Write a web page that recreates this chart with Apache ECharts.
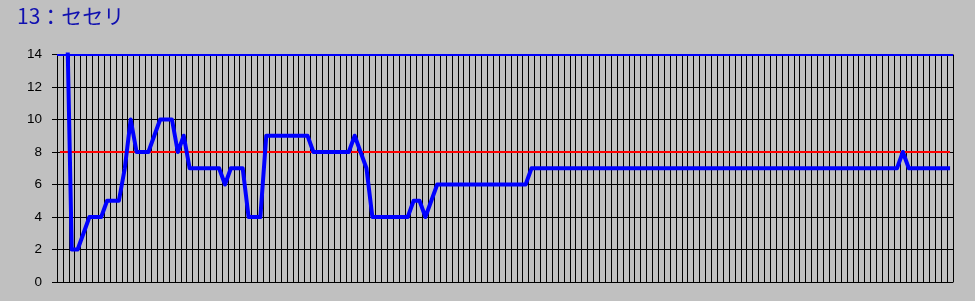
<!DOCTYPE html>
<html>
<head>
<meta charset="utf-8">
<script src="https://cdn.jsdelivr.net/npm/echarts@6/dist/echarts.min.js"></script>
<style>
  html, body { margin: 0; padding: 0; background: #C0C0C0; }
  #chart { width: 975px; height: 301px; }
</style>
</head>
<body>
<div id="chart"></div>
<script>
const titleText = '13：セセリ';
const yTicks = [0, 2, 4, 6, 8, 10, 12, 14];
const upperLevel = 14;
const redLevel = 8;
const values = [
  20, 20, 2, 2, 3, 4, 4, 4, 5, 5,
  5, 7, 10, 8, 8, 8, 9, 10, 10, 10,
  8, 9, 7, 7, 7, 7, 7, 7, 6, 7,
  7, 7, 4, 4, 4, 9, 9, 9, 9, 9,
  9, 9, 9, 8, 8, 8, 8, 8, 8, 8,
  9, 8, 7, 4, 4, 4, 4, 4, 4, 4,
  5, 5, 4, 5, 6, 6, 6, 6, 6, 6,
  6, 6, 6, 6, 6, 6, 6, 6, 6, 6,
  7, 7, 7, 7, 7, 7, 7, 7, 7, 7,
  7, 7, 7, 7, 7, 7, 7, 7, 7, 7,
  7, 7, 7, 7, 7, 7, 7, 7, 7, 7,
  7, 7, 7, 7, 7, 7, 7, 7, 7, 7,
  7, 7, 7, 7, 7, 7, 7, 7, 7, 7,
  7, 7, 7, 7, 7, 7, 7, 7, 7, 7,
  7, 7, 7, 8, 7, 7, 7, 7, 7, 7,
  7, 7
];
const categories = values.map((_, i) => String(i + 1));
const redValues = categories.map(() => redLevel);

const chart = echarts.init(document.getElementById('chart'), null, { renderer: 'canvas' });
chart.setOption({
  backgroundColor: '#C0C0C0',
  animation: false,
  title: {
    text: titleText,
    left: 12,
    top: 1,
    textStyle: {
      color: '#1010B0',
      fontSize: 21,
      fontWeight: 'normal',
      fontFamily: '"Noto Sans CJK JP", sans-serif'
    }
  },
  grid: {
    left: 57,
    right: 22,
    top: 54.5,
    bottom: 19,
    containLabel: false,
    outerBoundsMode: 'none'
  },
  xAxis: {
    type: 'category',
    data: categories,
    boundaryGap: true,
    axisLine: { show: true, lineStyle: { color: '#000', width: 1 } },
    axisTick: { show: false },
    axisLabel: { show: false },
    splitLine: { show: true, interval: 0, lineStyle: { color: '#000', width: 1 } }
  },
  yAxis: {
    type: 'value',
    min: yTicks[0],
    max: yTicks[yTicks.length - 1],
    interval: yTicks[1] - yTicks[0],
    axisLine: { show: true, lineStyle: { color: '#000', width: 1 } },
    axisTick: { show: true, length: 5, lineStyle: { color: '#000', width: 1 } },
    axisLabel: {
      show: true,
      margin: 15,
      color: '#000',
      fontSize: 13.5,
      fontFamily: '"Liberation Sans", Arial, sans-serif'
    },
    splitLine: { show: true, lineStyle: { color: '#000', width: 1 } }
  },
  series: [
    {
      type: 'line',
      data: redValues,
      symbol: 'none',
      silent: true,
      lineStyle: { color: '#FF0000', width: 2 },
      z: 2
    },
    {
      type: 'line',
      data: values,
      symbol: 'none',
      silent: true,
      clip: true,
      lineStyle: { color: '#0000FF', width: 4, join: 'round' },
      z: 3,
      markLine: {
        silent: true,
        symbol: 'none',
        label: { show: false },
        lineStyle: { color: '#0000FF', width: 2, type: 'solid' },
        data: [{ yAxis: upperLevel }]
      }
    }
  ]
});
</script>
</body>
</html>
